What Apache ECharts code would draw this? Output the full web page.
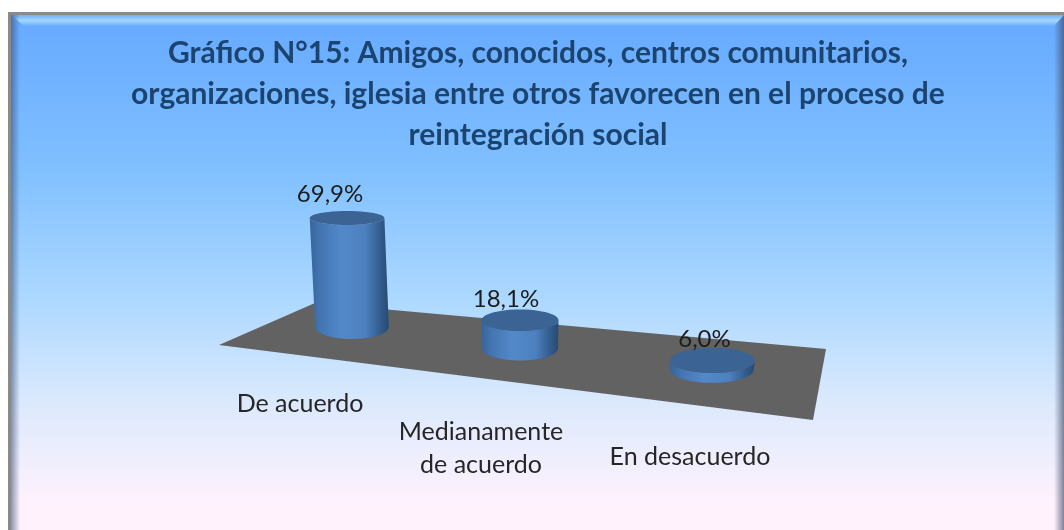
<!DOCTYPE html>
<html>
<head>
<meta charset="utf-8">
<title>Gráfico N°15</title>
<style>
  html, body { margin: 0; padding: 0; background: #fff; }
  #chart { width: 1064px; height: 530px; }
</style>
<script src="https://cdn.jsdelivr.net/npm/echarts@6/dist/echarts.min.js"></script>
</head>
<body>
<div id="chart"></div>
<script>
  var titleText = 'Gráfico N°15: Amigos, conocidos, centros comunitarios,\norganizaciones, iglesia entre otros favorecen en el proceso de\nreintegración social'
  var categories = ['De acuerdo', 'Medianamente\nde acuerdo', 'En desacuerdo']
  var values = [69.9, 18.1, 6.0]

  var FONT = 'Lato, "Open Sans", sans-serif'

  // tweaks per column, the picture is a tilted 3D view
  var radiusScale = [0.97, 1, 1.1]
  var labelShift = [[-17, -24], [-14, -21], [-8, -21]]
  var catShift = [[-52, 77], [-39, 100], [-22, 87]]

  function ellipsePts(cx, cy, rx, ry, from, to) {
    var pts = []
    for (var k = 0; k <= 48; k++) {
      var a = from + (to - from) * k / 48
      pts.push([cx + rx * Math.cos(a), cy + ry * Math.sin(a)])
    }
    return pts
  }

  function renderColumn(params, api) {
    var i = api.value(0)
    var v = api.value(1)
    var p0 = api.coord([i, 0])
    var p1 = api.coord([i, v])
    var band = api.size([1, 0])[0]
    var t = (p0[0] - api.coord([1, 0])[0]) / band

    // floor perspective: columns spread and drop to the right
    var cx = p0[0] - 12 * (1 - t * t)
    var base = p0[1] + 0.119 * (t + 1) * band
    var h = p0[1] - p1[1]
    var lean = 0.00027 * (cx - 520) * h
    var top = base - h
    var rx = band * 0.211 * radiusScale[i]
    var ryBase = 12 + (t > 0 ? 1 : 0)
    var ryTop = ryBase - h * 0.046

    var side = ellipsePts(cx, base, rx, ryBase, Math.PI, 0)
      .concat(ellipsePts(cx + lean, top, rx + 0.5, ryTop, 0, Math.PI))

    return {
      type: 'group',
      children: [
        {
          type: 'polygon',
          shape: { points: side },
          style: {
            fill: new echarts.graphic.LinearGradient(0, 0, 1, 0, [
              { offset: 0, color: '#386499' },
              { offset: 0.12, color: '#4274b0' },
              { offset: 0.4, color: '#5389ca' },
              { offset: 0.7, color: '#4c80bf' },
              { offset: 0.88, color: '#345e90' },
              { offset: 1, color: '#274a72' }
            ])
          }
        },
        {
          type: 'polygon',
          shape: { points: ellipsePts(cx + lean, top, rx + 0.5, ryTop, 0, Math.PI * 2) },
          style: { fill: '#3b6494' }
        },
        {
          type: 'text',
          style: {
            text: v.toFixed(1).replace('.', ',') + '%',
            x: cx + lean + labelShift[i][0],
            y: top + labelShift[i][1],
            font: '24px ' + FONT,
            fill: '#1c1c1c',
            textAlign: 'center',
            textVerticalAlign: 'middle'
          }
        },
        {
          type: 'text',
          style: {
            text: categories[i],
            x: cx + catShift[i][0],
            y: base + catShift[i][1],
            font: '25px ' + FONT,
            lineHeight: 33,
            fill: '#262626',
            textAlign: 'center',
            textVerticalAlign: 'middle'
          }
        }
      ]
    }
  }

  var chart = echarts.init(document.getElementById('chart'))
  chart.setOption({
    animation: false,
    title: {
      text: titleText,
      left: 533,
      top: 28,
      textAlign: 'center',
      textStyle: {
        fontFamily: FONT,
        fontSize: 30,
        fontWeight: 'bold',
        color: '#1c4470',
        lineHeight: 41
      }
    },
    graphic: [
      // panel with bevel
      {
        type: 'rect', silent: true, z: -10,
        shape: { x: 8, y: 12, width: 1056, height: 518 },
        style: { fill: '#8a8a8a' }
      },
      {
        type: 'rect', silent: true, z: -9,
        shape: { x: 11, y: 15, width: 1053, height: 515 },
        style: {
          fill: new echarts.graphic.LinearGradient(0, 0, 0, 1, [
            { offset: 0, color: '#66a9ff' },
            { offset: 0.3, color: '#80c0ff' },
            { offset: 0.55, color: '#acd8ff' },
            { offset: 0.75, color: '#dbe9fd' },
            { offset: 0.95, color: '#fff2fd' },
            { offset: 1, color: '#fff2fd' }
          ])
        }
      },
      {
        type: 'polygon', silent: true, z: -8,
        shape: { points: [[11, 15], [1064, 15], [1054, 26], [24, 26]] },
        style: {
          fill: new echarts.graphic.LinearGradient(0, 0, 0, 1, [
            { offset: 0, color: '#6fb0f8' },
            { offset: 0.5, color: '#a3d6ff' },
            { offset: 1, color: '#6cafff' }
          ])
        }
      },
      {
        type: 'rect', silent: true, z: -8,
        shape: { x: 11, y: 15, width: 9, height: 515 },
        style: {
          fill: new echarts.graphic.LinearGradient(0, 0, 1, 0, [
            { offset: 0, color: 'rgba(50,70,110,0.55)' },
            { offset: 1, color: 'rgba(50,70,110,0)' }
          ])
        }
      },
      {
        type: 'polygon', silent: true, z: -8,
        shape: { points: [[1064, 15], [1064, 530], [1054, 530], [1054, 26]] },
        style: {
          fill: new echarts.graphic.LinearGradient(0, 0, 1, 0, [
            { offset: 0, color: 'rgba(60,70,100,0)' },
            { offset: 1, color: 'rgba(60,70,100,0.65)' }
          ])
        }
      },
      // floor of the 3D chart
      {
        type: 'polygon', silent: true, z: -5,
        shape: { points: [[219, 345], [315, 303], [826, 349], [813, 420]] },
        style: { fill: '#626262' }
      }
    ],
    grid: { left: 262, top: 171, width: 540, height: 156 },
    xAxis: { type: 'category', data: categories, show: false },
    yAxis: { type: 'value', min: 0, max: 100, show: false },
    series: [
      {
        type: 'custom',
        coordinateSystem: 'cartesian2d',
        data: values.map(function (v, i) { return [i, v] }),
        encode: { x: 0, y: 1 },
        renderItem: renderColumn,
        clip: false,
        silent: true
      }
    ]
  })
</script>
</body>
</html>
